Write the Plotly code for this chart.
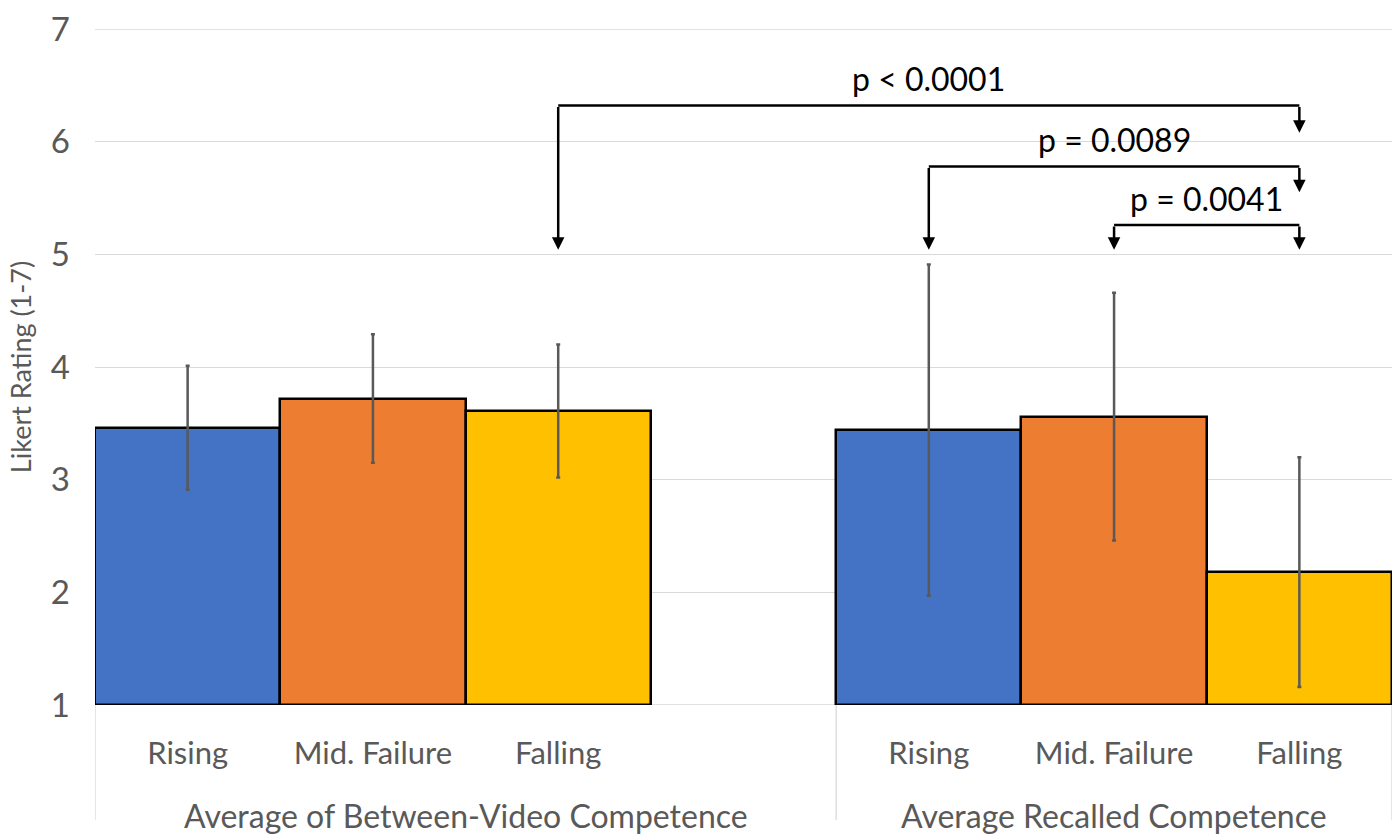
import plotly.graph_objects as go

# ---- data ----
conditions = ["Rising", "Mid. Failure", "Falling"]
groups = ["Average of Between-Video Competence", "Average Recalled Competence"]
colors = ["#4472C4", "#ED7D31", "#FFC000"]

between_means = [3.46, 3.72, 3.61]
between_err = [0.55, 0.57, 0.59]
recalled_means = [3.44, 3.56, 2.18]
recalled_err = [1.47, 1.10, 1.02]

# comparisons: (label, group/cond index of left end, right end, bracket level, left tip, right tip)
comparisons = [
    ("p < 0.0001", (0, 2), (1, 2), 6.32, 5.04, 6.08),
    ("p = 0.0089", (1, 0), (1, 2), 5.78, 5.04, 5.55),
    ("p = 0.0041", (1, 1), (1, 2), 5.26, 5.04, 5.04),
]

# slot positions: 3 bars, an empty slot, 3 bars
def slot(g, c):
    return g * 4 + c

fig = go.Figure()
all_means = [between_means, recalled_means]
all_err = [between_err, recalled_err]
for c, cond in enumerate(conditions):
    xs = [slot(g, c) for g in range(2)]
    ys = [all_means[g][c] for g in range(2)]
    es = [all_err[g][c] for g in range(2)]
    fig.add_trace(go.Bar(
        x=xs, y=[v - 1 for v in ys], base=1, width=1.0,
        name=cond,
        marker=dict(color=colors[c], line=dict(color="black", width=2.5)),
        error_y=dict(type="data", array=es, color="#595959", thickness=2.5, width=2),
        showlegend=False,
    ))

tickvals = [slot(g, c) for g in range(2) for c in range(3)]
ticktext = [conditions[c] for g in range(2) for c in range(3)]

font_family = "Lato, 'Open Sans', sans-serif"
grey = "#595959"

fig.update_layout(
    width=1400, height=839,
    margin=dict(l=95, r=8, t=25, b=134),
    plot_bgcolor="white", paper_bgcolor="white",
    font=dict(family=font_family, color=grey),
    bargap=0,
    xaxis=dict(
        range=[-0.5, 6.5], tickvals=tickvals, ticktext=ticktext,
        tickfont=dict(size=31, color=grey), showgrid=False, zeroline=False,
        ticks="", ticklabelstandoff=27, showline=False, fixedrange=True,
    ),
    yaxis=dict(
        range=[1, 7], dtick=1, tick0=1,
        tickfont=dict(size=33, color=grey),
        gridcolor="#D9D9D9", gridwidth=1.3, zeroline=False, showline=False,
        ticks="", ticklabelstandoff=24,
        title=dict(text="Likert Rating (1-7)", font=dict(size=27, color=grey), standoff=11),
    ),
)

shapes = []
# top gridline, baseline and category separators
for yv in [1, 7]:
    shapes.append(dict(type="line", xref="paper", yref="y", x0=0, x1=1, y0=yv, y1=yv,
                       line=dict(color="#D9D9D9", width=1.3), layer="below"))
for xv in [-0.5, 3.5, 6.5]:
    shapes.append(dict(type="line", xref="x", yref="paper", x0=xv, x1=xv, y0=0, y1=-0.17,
                       line=dict(color="#D9D9D9", width=1.3)))

annotations = []
for g, name in enumerate(groups):
    left = slot(g, 0) - 0.5
    right = 3.5 if g == 0 else 6.5
    annotations.append(dict(text=name, x=(left + right) / 2, xref="x", y=0, yref="paper",
                            yshift=-110, showarrow=False, font=dict(size=32, color=grey),
                            xanchor="center", yanchor="middle"))

for label, a, b, level, tip_a, tip_b in comparisons:
    xa = slot(*a)
    xb = slot(*b)
    shapes.append(dict(type="line", xref="x", yref="y", x0=xa, x1=xb, y0=level, y1=level,
                       line=dict(color="black", width=2.5)))
    for xv, tip in [(xa, tip_a), (xb, tip_b)]:
        annotations.append(dict(x=xv, y=tip, ax=xv, ay=level, xref="x", yref="y",
                                axref="x", ayref="y", showarrow=True, arrowhead=2,
                                arrowsize=1.0, arrowwidth=2.5, arrowcolor="black", text=""))
    annotations.append(dict(text=label, x=(xa + xb) / 2, y=level, xref="x", yref="y",
                            yshift=27, showarrow=False, font=dict(size=32, color="black"),
                            xanchor="center", yanchor="middle"))

fig.update_layout(shapes=shapes, annotations=annotations)
fig.write_html("out.html")
